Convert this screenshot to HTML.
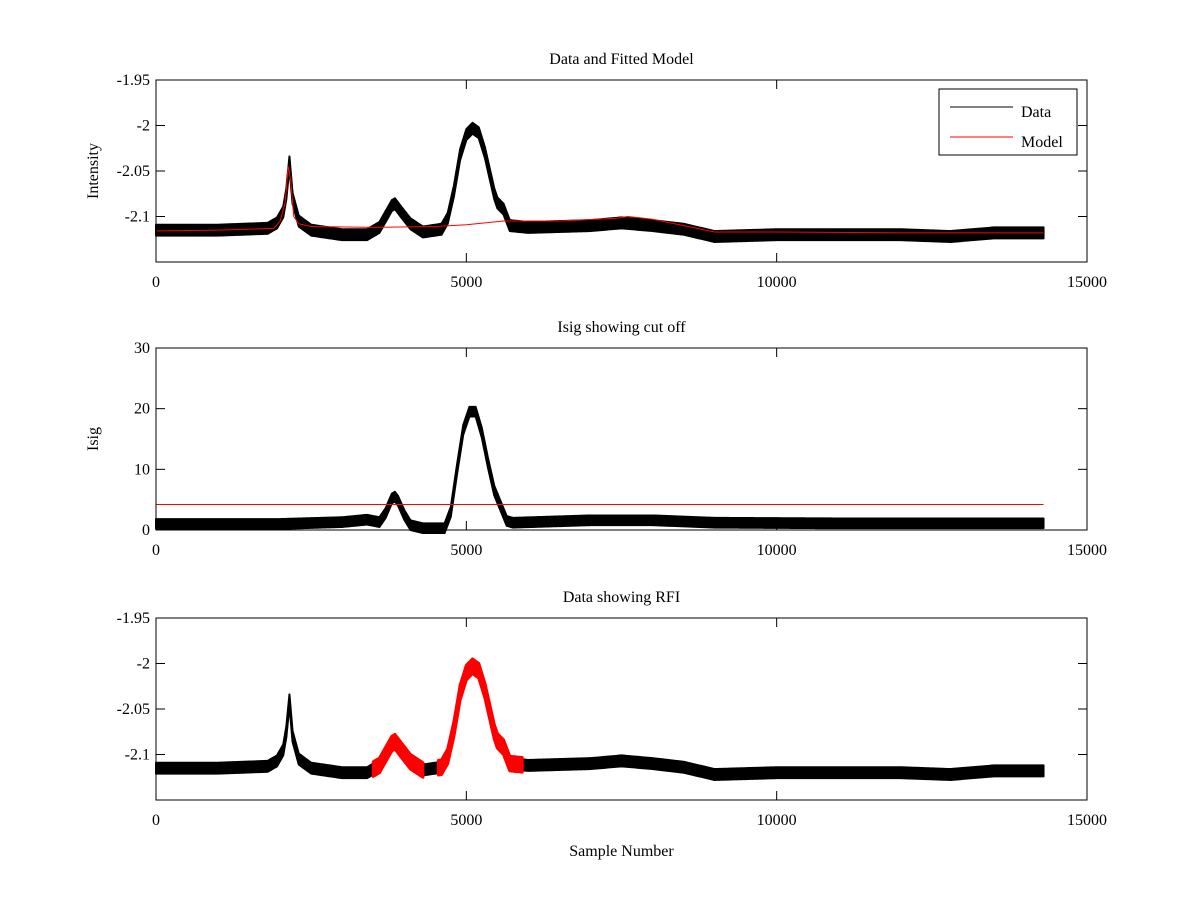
<!DOCTYPE html>
<html><head><meta charset="utf-8"><style>
body{margin:0;background:#fff;}
svg text{font-family:"Liberation Serif",serif;font-size:16px;fill:#000;}
</style></head><body>
<svg id="fig" width="1200" height="900" xmlns="http://www.w3.org/2000/svg"></svg>
<script>
// ---- data ----
const xTicks = [0, 5000, 10000, 15000];
const intTicks = [-1.95, -2, -2.05, -2.1];
const isigTicks = [0, 10, 20, 30];
const dataX = [0,1000,1800,1950,2050,2100,2150,2200,2300,2500,3000,3400,3600,3700,3800,3850,3950,4100,4300,4600,4700,4800,4900,5000,5100,5200,5300,5400,5450,5500,5600,5700,6000,7000,7500,8000,8500,9000,10000,11000,12000,12800,13500,14300];
const dataY = [-2.115,-2.115,-2.113,-2.107,-2.095,-2.075,-2.04,-2.08,-2.105,-2.115,-2.12,-2.12,-2.112,-2.1,-2.088,-2.086,-2.095,-2.108,-2.117,-2.114,-2.102,-2.072,-2.032,-2.01,-2.003,-2.008,-2.03,-2.06,-2.075,-2.085,-2.092,-2.11,-2.112,-2.11,-2.107,-2.11,-2.114,-2.122,-2.12,-2.12,-2.12,-2.122,-2.118,-2.118];
const modelX = [0,1000,1900,2000,2080,2130,2170,2220,2300,2500,3500,4500,5000,5600,6500,7400,7600,8000,8500,9000,10000,12000,14300];
const modelY = [-2.116,-2.115,-2.113,-2.105,-2.085,-2.045,-2.06,-2.1,-2.108,-2.111,-2.112,-2.111,-2.109,-2.105,-2.105,-2.102,-2.1,-2.103,-2.11,-2.117,-2.117,-2.118,-2.118];
const isigX = [0,2000,3000,3400,3600,3700,3800,3850,3900,4000,4100,4300,4650,4750,4850,4950,5050,5150,5250,5350,5450,5550,5650,5750,7000,8000,9000,11000,14300];
const isigY = [1,1,1.3,1.7,1.3,2.8,5.2,5.5,4.8,2.5,0.8,0.3,0.3,3,10,16.5,19.5,19.5,16,11,6.5,4,1.5,1.2,1.6,1.6,1.2,1.1,1.1];
const cutoff = 4.2;
const rfiRanges = [[3500,4300],[4550,5900]];

const svg = document.getElementById('fig');
const NS = 'http://www.w3.org/2000/svg';
function el(tag, attrs, parent){const e=document.createElementNS(NS,tag);for(const k in attrs)e.setAttribute(k,attrs[k]);(parent||svg).appendChild(e);return e;}
function interp(xs, ys, x){for(let i=0;i<xs.length-1;i++){if(x>=xs[i]&&x<=xs[i+1]){const t=(x-xs[i])/(xs[i+1]-xs[i]);return ys[i]+t*(ys[i+1]-ys[i]);}}return ys[ys.length-1];}

const X0=156, X1=1087;
const sx = v => X0 + (v-0)/(15000)*(X1-X0);

function axes(name, top, bot, ymin, ymax, ticks, title, ylabel){
  const g = el('g',{});
  
  
  const sy = v => bot - (v-ymin)/(ymax-ymin)*(bot-top);
  return {g, sy, top, bot, ticks, title, ylabel};
}
function frame(a){
  const g=a.g;
  const r=el('rect',{x:X0,y:a.top,width:X1-X0,height:a.bot-a.top,fill:'none',stroke:'#000','stroke-width':1},g);
  
  
  xTicks.forEach(t=>{
    const x=sx(t);
    el('line',{x1:x,y1:a.bot,x2:x,y2:a.bot-9,stroke:'#000'},g);
    el('line',{x1:x,y1:a.top,x2:x,y2:a.top+9,stroke:'#000'},g);
    const tx=el('text',{x:x,y:a.bot+25,'text-anchor':'middle'},g);tx.textContent=t;
    
    
  });
  a.ticks.forEach(t=>{
    const y=a.sy(t);
    el('line',{x1:X0,y1:y,x2:X0+9,y2:y,stroke:'#000'},g);
    el('line',{x1:X1,y1:y,x2:X1-9,y2:y,stroke:'#000'},g);
    const tx=el('text',{x:X0-6,y:y+5,'text-anchor':'end'},g);tx.textContent=t;
    
    
  });
  const tt=el('text',{x:(X0+X1)/2,y:a.top-16,'text-anchor':'middle'},g);tt.textContent=a.title;
  
  
  if(a.ylabel){
    const cy=(a.top+a.bot)/2;
    const yl=el('text',{x:0,y:0,'text-anchor':'middle',transform:`translate(${X0-58},${cy}) rotate(-90)`},g);yl.textContent=a.ylabel;
    
    
  }
}
function band(a, xs, ys, hw, color, from, to, name, sw){
  from = from===undefined?xs[0]:from; to = to===undefined?xs[xs.length-1]:to;
  const up=[],dn=[];
  for(let x=from;x<=to;x+=25){const v=interp(xs,ys,x);up.push(sx(x)+','+a.sy(v+hw));dn.unshift(sx(x)+','+a.sy(v-hw));}
  const p=el('polygon',{points:up.concat(dn).join(' '),fill:color,stroke:color,'stroke-width':sw||2,'stroke-linejoin':'round'},a.g);
  
  
}
function line(a, xs, ys, color, name){
  const pts=xs.map((x,i)=>sx(x)+','+a.sy(ys[i])).join(' ');
  const p=el('polyline',{points:pts,fill:'none',stroke:color,'stroke-width':1},a.g);
  
  
}

// Plot 1
const a1=axes('data-fitted-model-plot',80,262,-2.15,-1.95,intTicks,'Data and Fitted Model','Intensity');
band(a1,dataX,dataY,0.006,'#000',undefined,undefined,'data-series');
line(a1,modelX,modelY,'#f00','model-series');
frame(a1);
// legend
const lg=el('g',{});


el('rect',{x:939,y:89,width:138,height:66,fill:'#fff',stroke:'#000'},lg);
el('line',{x1:950,y1:107,x2:1013,y2:107,stroke:'#000'},lg);
el('line',{x1:950,y1:137,x2:1013,y2:137,stroke:'#f00'},lg);
const l1=el('text',{x:1021,y:117},lg);l1.textContent='Data';


const l2=el('text',{x:1021,y:147},lg);l2.textContent='Model';



// Plot 2
const a2=axes('isig-plot',348,530,0,30,isigTicks,'Isig showing cut off','Isig');
band(a2,isigX,isigY,0.8,'#000',undefined,undefined,'isig-series');
const cx=[0,14300], cy=[cutoff,cutoff];
line(a2,cx,cy,'#f00','cutoff-line');
frame(a2);

// Plot 3
const a3=axes('data-rfi-plot',618,800,-2.15,-1.95,intTicks,'Data showing RFI',null);
band(a3,dataX,dataY,0.006,'#000',undefined,undefined,'data-series');
rfiRanges.forEach(r=>band(a3,dataX,dataY,0.008,'#f00',r[0],r[1],'rfi-segment',3));
frame(a3);
const xl=el('text',{x:(X0+X1)/2,y:856,'text-anchor':'middle'});xl.textContent='Sample Number';


</script>
</body></html>
